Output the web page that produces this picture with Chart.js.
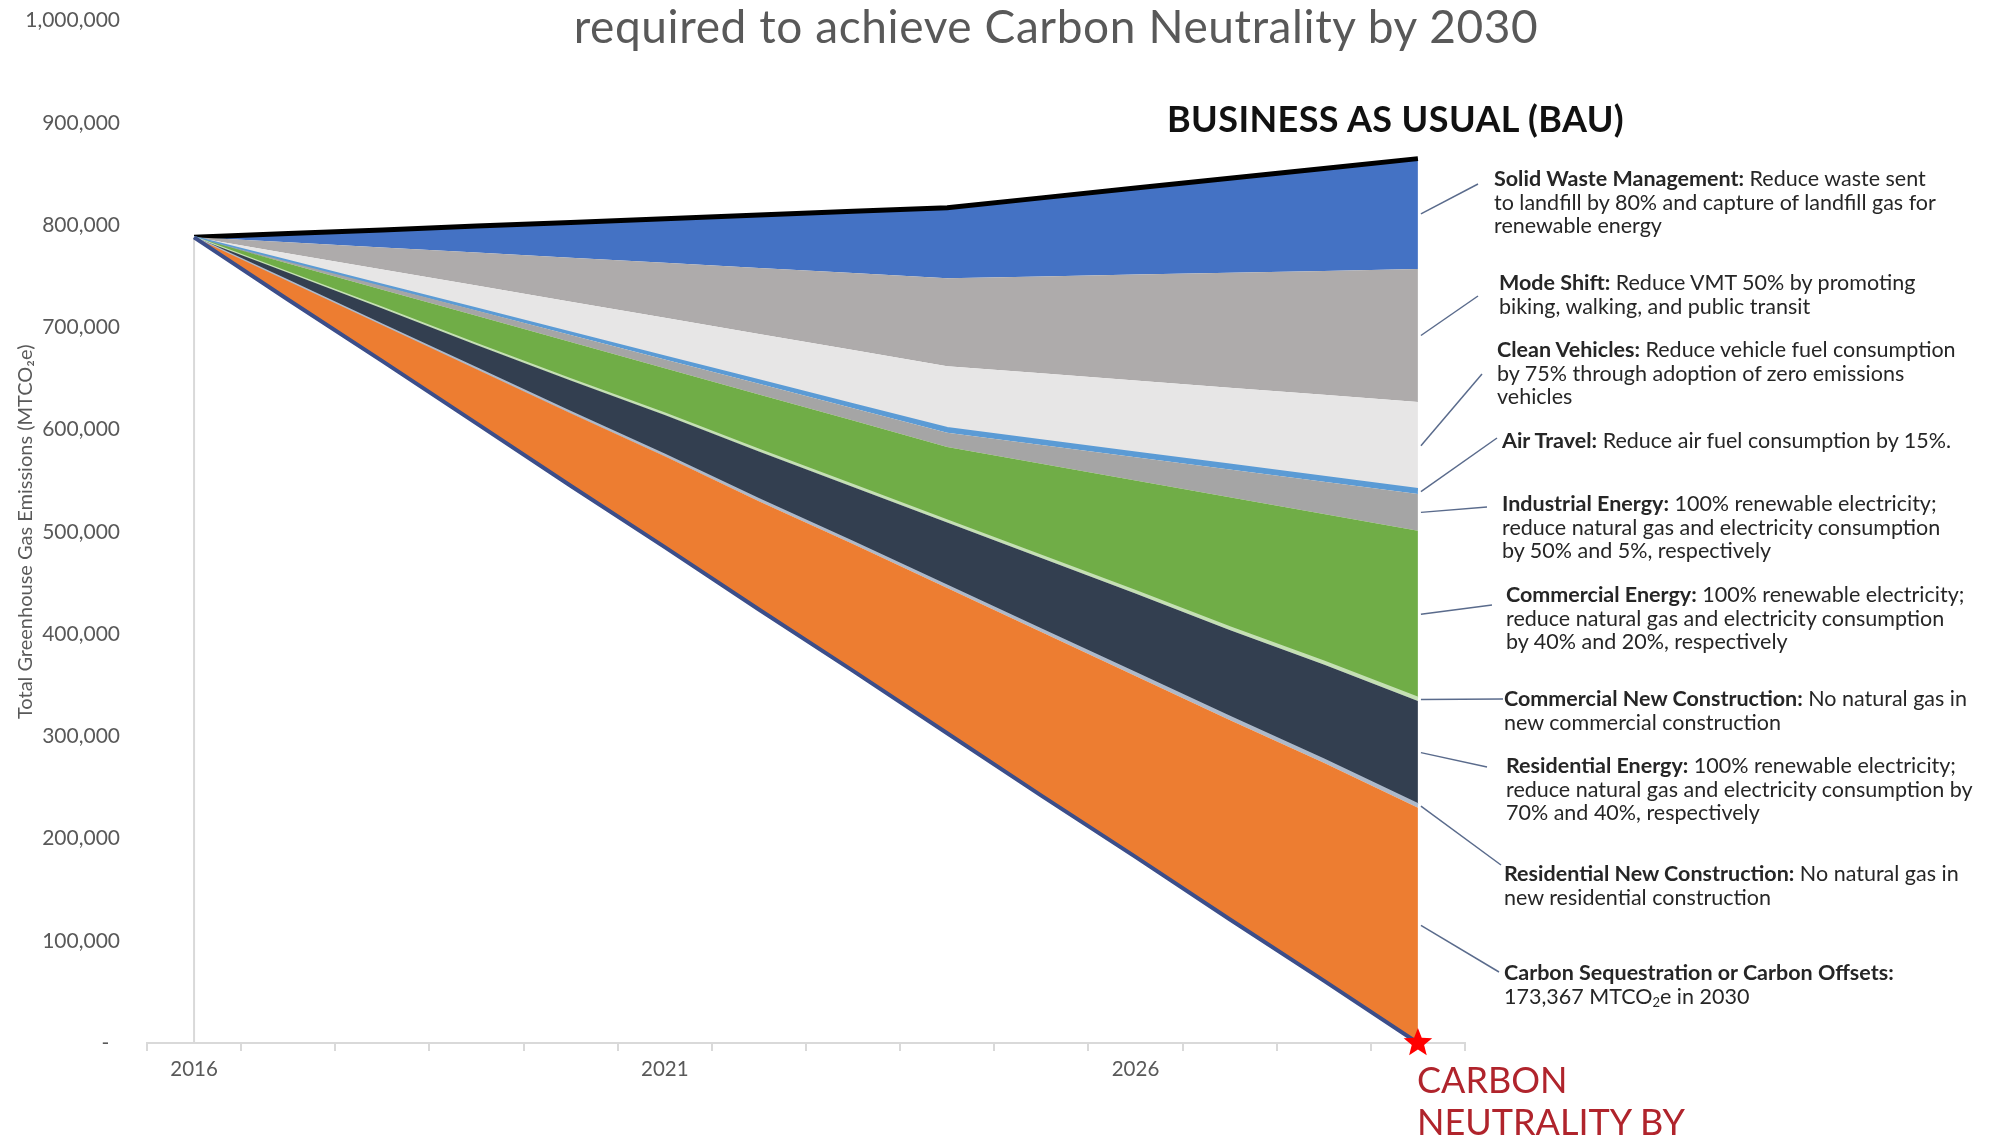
<!DOCTYPE html>
<html lang="en">
<head>
<meta charset="UTF-8">
<title>Carbon Neutrality by 2030</title>
<script src="https://cdn.jsdelivr.net/npm/chart.js@4.4.1/dist/chart.umd.min.js"></script>
<style>
  body { margin: 0; background: #fff; font-family: Lato, "Open Sans", sans-serif; }
  #wrap { position: relative; width: 1989px; height: 1137px; overflow: hidden; }
  #chartBox { position: absolute; left: 0; top: -19px; width: 1989px; height: 1156px; }
  .title { position: absolute; left: 0; width: 2112px; top: -2px; text-align: center; font-size: 46px; letter-spacing: 0.6px; color: #595959; white-space: nowrap; }
  .bau { position: absolute; left: 1167px; top: 96px; font-size: 36px; letter-spacing: 0.4px; font-weight: 700; color: #111; white-space: nowrap; }
  .neutral { position: absolute; left: 1417px; top: 1058px; font-size: 36px; line-height: 42px; color: #B0242C; white-space: nowrap; }
  .note { position: absolute; font-size: 21.5px; line-height: 23.5px; color: #262626; white-space: nowrap; }
  .note b { font-weight: 700; }
  .note sub { font-size: 13px; vertical-align: -3px; line-height: 0; }
</style>
</head>
<body>
<div id="wrap">
  <div id="chartBox"><canvas id="mychart"></canvas></div>
  <div class="title">required to achieve Carbon Neutrality by 2030</div>
  <div class="bau">BUSINESS AS USUAL (BAU)</div>
  <div class="neutral">CARBON<br>NEUTRALITY BY</div>

  <div class="note" style="left:1494px; top:167px"><b>Solid Waste Management:</b> Reduce waste sent<br>to landfill by 80% and capture of landfill gas for<br>renewable energy</div>
  <div class="note" style="left:1499px; top:271px"><b>Mode Shift:</b> Reduce VMT 50% by promoting<br>biking, walking, and public transit</div>
  <div class="note" style="left:1497px; top:338px"><b>Clean Vehicles:</b> Reduce vehicle fuel consumption<br>by 75% through adoption of zero emissions<br>vehicles</div>
  <div class="note" style="left:1502px; top:429px"><b>Air Travel:</b> Reduce air fuel consumption by 15%.</div>
  <div class="note" style="left:1502px; top:492px"><b>Industrial Energy:</b> 100% renewable electricity;<br>reduce natural gas and electricity consumption<br>by 50% and 5%, respectively</div>
  <div class="note" style="left:1506px; top:583px"><b>Commercial Energy:</b> 100% renewable electricity;<br>reduce natural gas and electricity consumption<br>by 40% and 20%, respectively</div>
  <div class="note" style="left:1504px; top:687px"><b>Commercial New Construction:</b> No natural gas in<br>new commercial construction</div>
  <div class="note" style="left:1506px; top:754px"><b>Residential Energy:</b> 100% renewable electricity;<br>reduce natural gas and electricity consumption by<br>70% and 40%, respectively</div>
  <div class="note" style="left:1504px; top:862px"><b>Residential New Construction:</b> No natural gas in<br>new residential construction</div>
  <div class="note" style="left:1504px; top:961px"><b>Carbon Sequestration or Carbon Offsets:</b><br>173,367 MTCO<sub>2</sub>e in 2030</div>
</div>

<script type="text/javascript">
  // years on the category axis
  const years = ['2016','2017','2018','2019','2020','2021','2022','2023','2024','2025','2026','2027','2028','2029'];

  // remaining emissions (bottom, unfilled) - falls to zero
  const remaining      = [788000, 727000, 667000, 606000, 545000, 485000, 424000, 364000, 303000, 242000, 182000, 121000, 61000, 0];
  // reductions stacked on top, bottom to top
  const sequestration  = [0, 18000, 35000, 53000, 71000, 89000, 106000, 124000, 142000, 160000, 177000, 195000, 213000, 230000];
  const resNewConstr   = [0, 300, 500, 800, 1100, 1300, 1600, 1900, 2200, 2400, 2700, 3000, 3200, 3500];
  const resEnergy      = [0, 8000, 16000, 23000, 31000, 39000, 47000, 54000, 62000, 70000, 78000, 85000, 93000, 101000];
  const comNewConstr   = [0, 200, 500, 700, 900, 1200, 1400, 1600, 1800, 2100, 2300, 2500, 2800, 3000];
  const comEnergy      = [0, 8900, 17800, 27700, 36600, 44500, 54400, 63300, 72000, 90100, 108200, 127300, 144400, 163500];
  const industrial     = [0, 1700, 3500, 5200, 6900, 8600, 10400, 12100, 14000, 18400, 22800, 27200, 31600, 36000];
  const airTravel      = [0, 500, 1000, 1500, 2000, 2500, 3000, 3500, 4000, 4100, 4200, 4300, 4400, 4500];
  const cleanVehicles  = [0, 7700, 15200, 22900, 30500, 38200, 45700, 53400, 61000, 65900, 70800, 75700, 80600, 85500];
  const modeShift      = [0, 10800, 21500, 32300, 43000, 53800, 64500, 75300, 86000, 94800, 103600, 112400, 121200, 130000];
  const solidWaste     = [0, 8600, 17300, 25900, 34500, 43100, 51800, 60400, 69000, 76800, 84600, 92400, 100200, 108000];

  // where the leader lines end, next to each note (series 1..10, bottom to top)
  const leaderEnds = [
    [1499, 991], [1501, 884], [1487, 786], [1503, 718], [1492, 624],
    [1487, 526], [1497, 457], [1482, 393], [1478, 315], [1478, 203]
  ];

  function band(label, data, color, line, width) {
    return {
      label: label,
      data: data,
      backgroundColor: color,
      borderColor: line || color,
      borderWidth: width || 0,
      fill: '-1',
      pointRadius: 0,
      tension: 0
    };
  }

  const extras = {
    id: 'extras',
    beforeDatasetsDraw(chart) {
      const {ctx, scales: {x, y}} = chart;
      const top = chart.getDatasetMeta(chart.data.datasets.length - 1).data[0].y;
      ctx.save();
      ctx.strokeStyle = '#D9D9D9';
      ctx.lineWidth = 2;
      ctx.beginPath();
      ctx.moveTo(x.getPixelForValue(0), top);
      ctx.lineTo(x.getPixelForValue(0), y.getPixelForValue(0));
      ctx.stroke();
      ctx.restore();
    },
    afterDatasetsDraw(chart) {
      const {ctx, scales: {x, y}} = chart;
      const last = years.length - 1;
      const xr = x.getPixelForValue(last);
      ctx.save();
      ctx.strokeStyle = '#5A6B8C';
      ctx.lineWidth = 1.5;
      for (let i = 1; i < chart.data.datasets.length; i++) {
        const yTop = chart.getDatasetMeta(i).data[last].y;
        const yBot = chart.getDatasetMeta(i - 1).data[last].y;
        const end = leaderEnds[i - 1];
        ctx.beginPath();
        ctx.moveTo(xr + 3, (yTop + yBot) / 2);
        ctx.lineTo(end[0], end[1]);
        ctx.stroke();
      }
      // red star at carbon neutrality
      const cx = xr, cy = y.getPixelForValue(0), R = 15, r = 6.5;
      ctx.fillStyle = '#FF0000';
      ctx.beginPath();
      for (let k = 0; k < 10; k++) {
        const a = -Math.PI / 2 + k * Math.PI / 5;
        const rad = k % 2 === 0 ? R : r;
        ctx.lineTo(cx + rad * Math.cos(a), cy + rad * Math.sin(a));
      }
      ctx.closePath();
      ctx.fill();
      ctx.restore();
    }
  };

  const data = {
    labels: years,
    datasets: [
      {
        label: 'Remaining Emissions',
        data: remaining,
        backgroundColor: 'rgba(255,255,255,0)',
        borderColor: '#3C4E8A',
        borderWidth: 4,
        fill: 'origin',
        pointRadius: 0,
        tension: 0
      },
      band('Carbon Sequestration or Carbon Offsets', sequestration, '#ED7D31'),
      band('Residential New Construction', resNewConstr, '#ADB9CA', '#ADB9CA', 2.5),
      band('Residential Energy', resEnergy, '#333F50'),
      band('Commercial New Construction', comNewConstr, '#C5E0B4', '#C5E0B4', 2.5),
      band('Commercial Energy', comEnergy, '#70AD47'),
      band('Industrial Energy', industrial, '#A5A5A5'),
      band('Air Travel', airTravel, '#5B9BD5', '#5B9BD5', 3),
      band('Clean Vehicles', cleanVehicles, '#E7E6E6'),
      band('Mode Shift', modeShift, '#AEABAB'),
      band('Solid Waste Management', solidWaste, '#4472C4', '#000000', 5)
    ]
  };

  const config = {
    type: 'line',
    data: data,
    options: {
      responsive: true,
      maintainAspectRatio: false,
      animation: false,
      layout: { padding: { top: 0, right: 524, bottom: 44, left: 0 } },
      plugins: {
        legend: { display: false },
        tooltip: { enabled: false }
      },
      scales: {
        x: {
          offset: true,
          grid: { display: true, offset: true, drawOnChartArea: false, drawTicks: true, tickLength: 8, color: '#D9D9D9', lineWidth: 2 },
          border: { display: true, color: '#D9D9D9', width: 2 },
          ticks: {
            autoSkip: false, maxRotation: 0, padding: 6, color: '#595959',
            font: { family: 'Lato', size: 20.5 },
            callback: function (v, i) { return i % 5 === 0 ? this.getLabelForValue(v) : ''; }
          },
          afterFit: function (s) { s.height = 50; }
        },
        y: {
          stacked: true,
          min: 0,
          max: 1000000,
          grid: { display: false, drawTicks: false },
          border: { display: false },
          ticks: {
            stepSize: 100000, padding: 27, color: '#595959',
            font: { family: 'Lato', size: 21 },
            callback: function (v) { return v === 0 ? '-  ' : v.toLocaleString('en-US'); }
          },
          title: {
            display: true,
            text: 'Total Greenhouse Gas Emissions (MTCO\u2082e)',
            color: '#595959',
            font: { family: 'Lato', size: 20 },
            padding: { top: 14, bottom: 0 }
          },
          afterFit: function (s) { s.width = 147; }
        }
      }
    },
    plugins: [extras]
  };

  var myChart = new Chart(document.getElementById('mychart'), config);
</script>
</body>
</html>
